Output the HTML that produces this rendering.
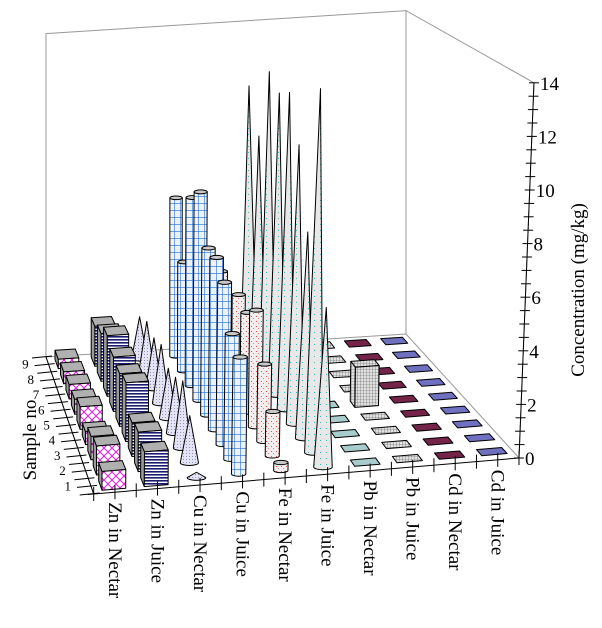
<!DOCTYPE html>
<html><head><meta charset="utf-8"><style>
html,body{margin:0;padding:0;background:#fff;}
svg{display:block;}
text{font-family:"Liberation Serif","Times New Roman",serif;}
</style></head><body>
<svg id="chart" width="602" height="628" viewBox="0 0 602 628" xmlns="http://www.w3.org/2000/svg">
<defs>
<pattern id="pMag" width="8" height="8" patternUnits="userSpaceOnUse"><rect width="8" height="8" fill="#fff"/><path d="M0 8L8 0M0 0L8 8" stroke="#e020e0" stroke-width="1"/></pattern>
<pattern id="pNavy" width="4" height="3" patternUnits="userSpaceOnUse"><rect width="4" height="3" fill="#fff"/><rect width="4" height="1.6" fill="#1a1a6e"/></pattern>
<pattern id="pCone" width="3" height="3" patternUnits="userSpaceOnUse"><rect width="3" height="3" fill="#e4e4f4"/><rect width="1" height="1" fill="#9090b8"/></pattern>
<pattern id="pBlue" width="6" height="7" patternUnits="userSpaceOnUse"><rect width="6" height="7" fill="#eef2f8"/><path d="M0 0H6M0 0V7" stroke="#2070d0" stroke-width="1.2"/></pattern>
<pattern id="pPink" width="5" height="5" patternUnits="userSpaceOnUse"><rect width="5" height="5" fill="#f3eded"/><rect x="1" y="1" width="1" height="1" fill="#e05050"/><rect x="3" y="3" width="1" height="1" fill="#e08080"/></pattern>
<pattern id="pCyan" width="6" height="6" patternUnits="userSpaceOnUse"><rect width="6" height="6" fill="#e8e8e8"/><rect x="2" y="2" width="1" height="1" fill="#30c0c0"/></pattern>
<pattern id="pGrid" width="3" height="3" patternUnits="userSpaceOnUse"><rect width="3" height="3" fill="#e0e0e0"/><path d="M0 0H3M0 0V3" stroke="#555" stroke-width="0.6"/></pattern>
</defs>
<g id="walls"></g>
<g id="marks"></g>
<g id="axes"></g>
</svg>
<script>
const categories=["Zn in Nectar","Zn in Juice","Cu in Nectar","Cu in Juice","Fe in Nectar","Fe in Juice","Pb in Nectar","Pb in Juice","Cd in Nectar","Cd in Juice"];
const samples=[1,2,3,4,5,6,7,8,9];
const znNectar=[0.7,1.1,0.9,0.5,0.9,0.6,0.6,0.5,0.4];
const znJuice=[1.3,1.5,1.3,2.3,2.1,2.2,2.5,2.0,1.7];
const cuNectar=[0.2,1.8,2.6,2.2,2.0,2.4,2.1,2.2,1.8];
const cuJuice=[4.4,4.8,6.3,6.8,6.7,8.5,7.8,4.6,6.8];
const feNectar=[0.3,1.7,3.0,4.6,4.0,4.2,2.8,4.1,3.9];
const feJuice=[6.0,13.9,8.0,11.0,12.7,12.3,12.8,9.7,11.4];
const pbNectar=[0.05,0.05,0.05,0.05,0.05,0.05,0.05,0.05,0.05];
const pbJuice=[0.05,0.05,0.05,0.05,1.6,0.05,0.05,0.05,0.05];
const cdNectar=[0.05,0.05,0.05,0.05,0.05,0.05,0.05,0.05,0.05];
const cdJuice=[0.05,0.05,0.05,0.05,0.05,0.05,0.05,0.05,0.05];
const zTicks=[0,2,4,6,8,10,12,14];
const zMax=14;

const series=[
 {v:znNectar,shape:"box",fill:"url(#pMag)"},
 {v:znJuice,shape:"box",fill:"url(#pNavy)"},
 {v:cuNectar,shape:"cone",fill:"url(#pCone)"},
 {v:cuJuice,shape:"cyl",fill:"url(#pBlue)"},
 {v:feNectar,shape:"cyl",fill:"url(#pPink)"},
 {v:feJuice,shape:"cone",fill:"url(#pCyan)"},
 {v:pbNectar,shape:"flat",fill:"#a8cccc"},
 {v:pbJuice,shape:"flat",fill:"url(#pGrid)"},
 {v:cdNectar,shape:"flat",fill:"#742448"},
 {v:cdJuice,shape:"flat",fill:"#7070c0"}
];
const F0=[93.7,494],F1=[519,458],B0=[46,357],B1=[406,334];
const NS="http://www.w3.org/2000/svg";
const FONT='"Liberation Serif", serif';
function P(c,s,z){
 const u=c/10,v=s/9;
 const x=(1-v)*((1-u)*F0[0]+u*F1[0])+v*((1-u)*B0[0]+u*B1[0]);
 const y=(1-v)*((1-u)*F0[1]+u*F1[1])+v*((1-u)*B0[1]+u*B1[1]);
 const sc=26.8*(1-v)+23.1*v;
 return [x+z*1.07*u*(1-v), y-z*sc];
}
function el(tag,attrs,parent){const e=document.createElementNS(NS,tag);for(const k in attrs)e.setAttribute(k,attrs[k]);parent.appendChild(e);return e;}
function pts(a){return a.map(p=>p[0].toFixed(1)+","+p[1].toFixed(1)).join(" ");}
const walls=document.getElementById("walls"),marks=document.getElementById("marks"),axes=document.getElementById("axes");
const bw=el("polygon",{points:pts([P(0,9,0),P(10,9,0),P(10,9,zMax),P(0,9,zMax)]),fill:"none",stroke:"#999","stroke-width":1},walls);


const rw=el("polygon",{points:pts([P(10,9,0),P(10,0,0),P(10,0,zMax),P(10,9,zMax)]),fill:"none",stroke:"#999","stroke-width":1},walls);


const fl=el("polyline",{points:pts([P(0,0,0),P(0,9,0)]),fill:"none",stroke:"#999","stroke-width":1},walls);



for(let j=samples.length-1;j>=0;j--){
 for(let i=0;i<series.length;i++){
  const s=series[i],val=s.v[j];
  const c=i+0.5,sd=j+0.5;
  const g=el("g",{},marks);
  
  
  const st={stroke:"#000","stroke-width":1,"stroke-linejoin":"round"};
  if(s.shape==="box"){
   const w=0.28,d=0.3;
   const a=P(c-w,sd-d,0),b=P(c+w,sd-d,0),bt=P(c+w,sd-d,val),at=P(c-w,sd-d,val);
   const a2=P(c-w,sd+d,val),b2=P(c+w,sd+d,val),a2b=P(c-w,sd+d,0);
   el("polygon",Object.assign({points:pts([a,at,a2,a2b]),fill:"#9a9a9a"},st),g);
   el("polygon",Object.assign({points:pts([at,bt,b2,a2]),fill:"#b0b0b0"},st),g);
   el("polygon",Object.assign({points:pts([a,b,bt,at]),fill:s.fill},st),g);
  } else if(s.shape==="cyl"){
   const L=P(c-0.17,sd,0),R=P(c+0.17,sd,0);
   const rx=(R[0]-L[0])/2,cx=(R[0]+L[0])/2,by=(L[1]+R[1])/2;
   const T=P(c,sd,val),ty=T[1],tx=T[0],ry=rx*0.3;
   el("path",Object.assign({d:`M${cx-rx},${by} A${rx},${ry} 0 0 0 ${cx+rx},${by} L${tx+rx},${ty} L${tx-rx},${ty} Z`,fill:s.fill},st),g);
   el("ellipse",Object.assign({cx:tx,cy:ty,rx:rx,ry:ry,fill:"#c8c8c8"},st),g);
  } else if(s.shape==="cone"){
   const L=P(c-0.22,sd,0),R=P(c+0.22,sd,0),T=P(c,sd,val);
   const rx=(R[0]-L[0])/2,cx=(R[0]+L[0])/2,by=(L[1]+R[1])/2,ry=rx*0.3;
   el("path",Object.assign({d:`M${cx-rx},${by} A${rx},${ry} 0 0 0 ${cx+rx},${by} L${T[0]},${T[1]} Z`,fill:s.fill},st),g);
  } else {
   const w=0.3,d=0.22;
   el("polygon",Object.assign({points:pts([P(c-w,sd-d,val),P(c+w,sd-d,val),P(c+w,sd+d,val),P(c-w,sd+d,val)]),fill:s.fill},st),g);
   if(val>0.5){
    const a=P(c-w,sd-d,0),b=P(c+w,sd-d,0);
    const bt=P(c+w,sd-d,val),at=P(c-w,sd-d,val),a2=P(c-w,sd+d,val),a2b=P(c-w,sd+d,0);
    el("polygon",Object.assign({points:pts([a,at,a2,a2b]),fill:s.fill},st),g);
    el("polygon",Object.assign({points:pts([a,b,bt,at]),fill:s.fill},st),g);
   }
  }
 }
}

const fa=el("line",{x1:P(0,0,0)[0]-6,y1:P(0,0,0)[1]+0.5,x2:P(10,0,0)[0],y2:P(10,0,0)[1],stroke:"#000","stroke-width":1},axes);


for(let k=0;k<=20;k++){
 const p=P(k/2,0,0);
 el("line",{x1:p[0],y1:p[1]-7,x2:p[0],y2:p[1]+7,stroke:"#000","stroke-width":1},axes);
}
categories.forEach((name,i)=>{
 const p=P(i+0.5,0,0);
 const t=el("text",{x:0,y:0,transform:`translate(${p[0]-6},${p[1]+10}) rotate(90)`,"font-size":19,"font-family":FONT,fill:"#000"},axes);
 t.textContent=name;
 
 
});
const sa0=P(0,0,0),sa1=P(0,9,0);
const sax=el("line",{x1:sa0[0],y1:sa0[1],x2:sa1[0],y2:sa1[1],stroke:"#000","stroke-width":1},axes);


for(let k=0;k<=18;k++){
 const p=P(0,k/2,0);
 el("line",{x1:p[0]-14,y1:p[1]+1,x2:p[0]+6,y2:p[1]-1,stroke:"#000","stroke-width":1},axes);
}
samples.forEach((s,j)=>{
 const p=P(0,j+0.5,0);
 const t=el("text",{x:p[0]-20,y:p[1]+4,"font-size":13,"font-family":FONT,"text-anchor":"end",fill:"#000"},axes);
 t.textContent=s;
 
 
});
const st=el("text",{x:0,y:0,transform:"translate(36,440) rotate(-90)","font-size":19,"font-family":FONT,"text-anchor":"middle",fill:"#000"},axes);
st.textContent="Sample no";


const z0=P(10,0,0),z1=P(10,0,zMax);
const zx=el("line",{x1:z0[0],y1:z0[1],x2:z1[0],y2:z1[1],stroke:"#000","stroke-width":1},axes);


for(let k=0;k<=zMax*2;k++){
 const p=P(10,0,k/2);
 el("line",{x1:p[0]-5,y1:p[1],x2:p[0]+5,y2:p[1],stroke:"#000","stroke-width":1},axes);
}
zTicks.forEach(v=>{
 const p=P(10,0,v);
 const t=el("text",{x:p[0]+6,y:p[1]+7,"font-size":19,"font-family":FONT,fill:"#000"},axes);
 t.textContent=v;
 
 
});
const zt=el("text",{x:0,y:0,transform:"translate(584,290) rotate(-90)","font-size":19,"font-family":FONT,"text-anchor":"middle",fill:"#000"},axes);
zt.textContent="Concentration (mg/kg)";


</script>
</body></html>
